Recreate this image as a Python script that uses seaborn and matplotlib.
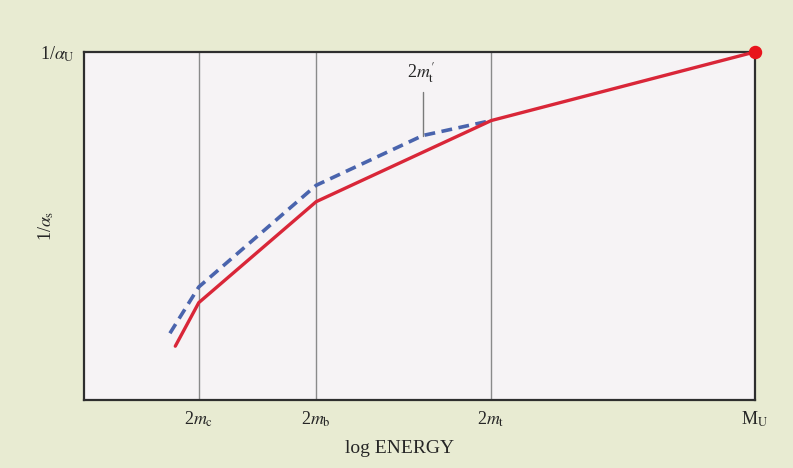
import matplotlib
matplotlib.use("Agg")
import matplotlib.pyplot as plt
import seaborn as sns
import pandas as pd

# ------------------------------
# Data (log energy on x, inverse coupling on y, arbitrary units)
# ------------------------------
threshold_names = ["2$m_{\\mathrm{c}}$", "2$m_{\\mathrm{b}}$", "2$m_{\\mathrm{t}}$", "M$_{\\mathrm{U}}$"]
threshold_x = [1.71, 3.46, 6.07, 10.0]

# solid red curve: standard running of 1/alpha_s
red_x = [1.36, 1.71, 3.46, 6.07, 10.0]
red_y = [1.55, 2.80, 5.70, 8.03, 10.0]

# dashed blue curve: with a different top mass 2m't
blue_x = [1.28, 1.71, 3.46, 5.05, 6.07]
blue_y = [1.92, 3.25, 6.17, 7.60, 8.03]

mt_prime_x = 5.05
mt_prime_y = 7.60

sns.set_theme(style="white")
plt.rcParams["font.family"] = ["Liberation Serif", "DejaVu Serif"]
plt.rcParams["mathtext.fontset"] = "stix"

bg = "#e8ebd2"
fig = plt.figure(figsize=(7.93, 4.68), dpi=100, facecolor=bg)
ax = fig.add_axes([0.106, 0.145, 0.846, 0.744])
ax.set_facecolor("#f6f3f5")

# threshold lines
for xv in threshold_x[:-1]:
    ax.axvline(xv, color="#8a8a8a", lw=1.0, zorder=1)

red_df = pd.DataFrame({"x": red_x, "y": red_y})
blue_df = pd.DataFrame({"x": blue_x, "y": blue_y})

sns.lineplot(data=blue_df, x="x", y="y", ax=ax, color="#4a64ad", lw=2.6,
             linestyle=(0, (3, 1.8)), sort=False, zorder=3)
sns.lineplot(data=red_df, x="x", y="y", ax=ax, color="#d92638", lw=2.4,
             sort=False, zorder=4)
ax.scatter([red_x[-1]], [red_y[-1]], s=75, color="#e8141c", zorder=6, clip_on=False)

# marker for 2m't
ax.plot([mt_prime_x, mt_prime_x], [mt_prime_y, 8.85], color="#7a7a7a", lw=1.0, zorder=2)
ax.text(mt_prime_x - 0.03, 9.05, "2$m^{\\prime}_{\\mathrm{t}}$", ha="center", va="bottom", fontsize=13)

ax.set_xlim(0, 10)
ax.set_ylim(0, 10)
ax.set_xticks(threshold_x)
ax.set_xticklabels(threshold_names, fontsize=13)
ax.set_yticks([10])
ax.set_yticklabels(["1/$\\alpha_{\\mathrm{U}}$"], fontsize=13)
ax.tick_params(axis="both", length=0, pad=7)
ax.set_xlabel("log ENERGY", fontsize=14)
ax.xaxis.set_label_coords(0.47, -0.115)
ax.set_ylabel("1/$\\alpha_{\\mathrm{s}}$", fontsize=13)
ax.yaxis.set_label_coords(-0.042, 0.5)

for sp in ax.spines.values():
    sp.set_color("#2e2e2e")
    sp.set_linewidth(1.6)

fig.savefig("out.png", dpi=100, facecolor=bg)
